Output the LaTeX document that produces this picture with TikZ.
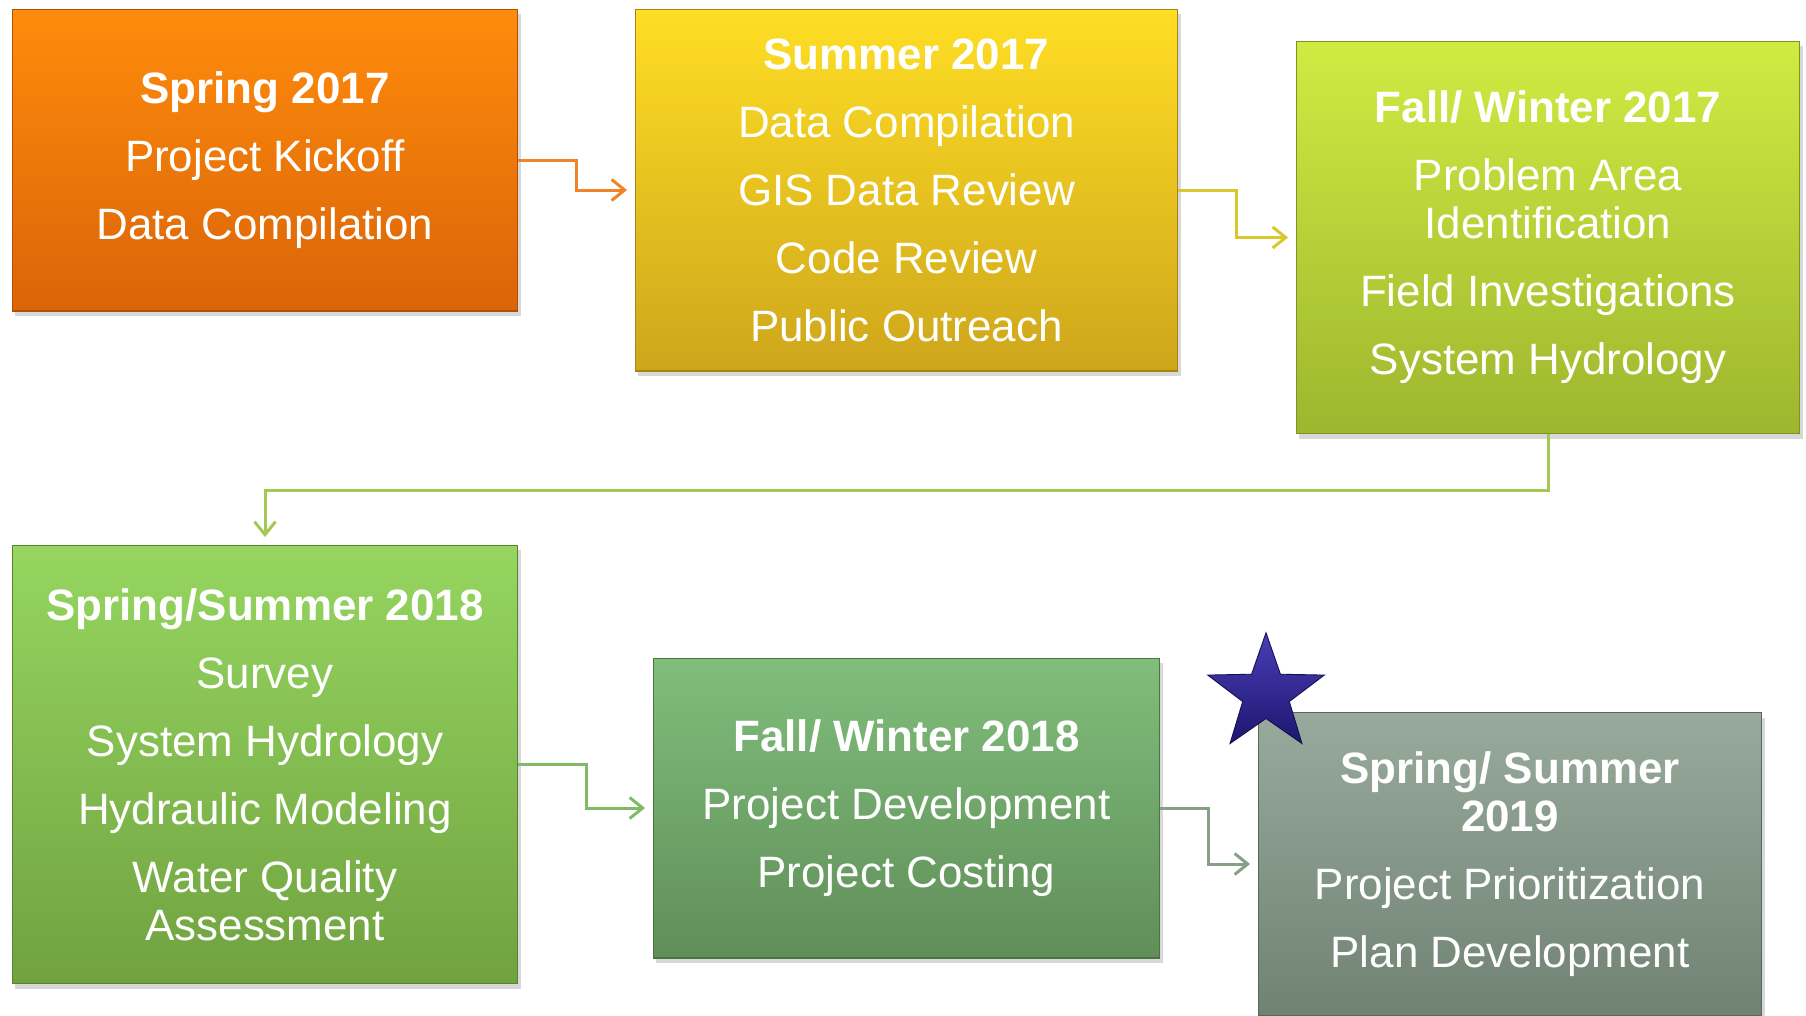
\documentclass[tikz,border=0pt]{standalone}
\usepackage{fontspec}
\setmainfont{Liberation Sans}
\usetikzlibrary{shapes.geometric,shadows,arrows.meta}

\definecolor{springtop}{RGB}{255,140,12}
\definecolor{springbot}{RGB}{218,100,8}
\definecolor{summertop}{RGB}{255,222,36}
\definecolor{summerbot}{RGB}{206,166,28}
\definecolor{falltop}{RGB}{208,235,66}
\definecolor{fallbot}{RGB}{158,182,46}
\definecolor{ssumtop}{RGB}{150,214,96}
\definecolor{ssumbot}{RGB}{112,162,64}
\definecolor{wintertop}{RGB}{128,190,124}
\definecolor{winterbot}{RGB}{96,142,88}
\definecolor{plantop}{RGB}{152,170,156}
\definecolor{planbot}{RGB}{112,130,114}
\definecolor{startop}{RGB}{72,62,182}
\definecolor{starbot}{RGB}{30,22,112}
\definecolor{springline}{RGB}{240,132,40}
\definecolor{summerline}{RGB}{216,200,44}
\definecolor{fallline}{RGB}{164,200,84}
\definecolor{ssumline}{RGB}{128,186,100}
\definecolor{winterline}{RGB}{134,160,134}

\begin{document}
\begin{tikzpicture}[x=0.02cm, y=-0.02cm,
        box/.style 2 args={rectangle, top color=#1, bottom color=#2, draw=#2!80!black, line width=0.6pt,
            text=white, align=center, font=\fontsize{25}{27.3}\selectfont,
            drop shadow={opacity=0.3, shadow xshift=0.06cm, shadow yshift=-0.1cm}},
        arrow/.style={->, >={Straight Barb[length=0.26cm, width=0.42cm]}, line width=0.06cm, shorten >=0.15cm, draw=#1}
    ]
        \useasboundingbox[fill=white] (0,0) rectangle (1806,1015);

        \node[box={springtop}{springbot}, minimum width=10.12cm, minimum height=6.04cm] (spring17) at (265,160)
            {\textbf{Spring 2017}\\[11.4pt]Project Kickoff\\[11.4pt]Data Compilation};
        \node[box={summertop}{summerbot}, minimum width=10.86cm, minimum height=7.24cm] (summer17) at (906.5,190)
            {\textbf{Summer 2017}\\[11.4pt]Data Compilation\\[11.4pt]GIS Data Review\\[11.4pt]Code Review\\[11.4pt]Public Outreach};
        \node[box={falltop}{fallbot}, minimum width=10.08cm, minimum height=7.86cm] (fall17) at (1548,237.5)
            {\textbf{Fall/ Winter 2017}\\[11.4pt]Problem Area\\Identification\\[11.4pt]Field Investigations\\[11.4pt]System Hydrology};
        \node[box={ssumtop}{ssumbot}, minimum width=10.12cm, minimum height=8.78cm] (spring18) at (265,764.5)
            {\textbf{Spring/Summer 2018}\\[11.4pt]Survey\\[11.4pt]System Hydrology\\[11.4pt]Hydraulic Modeling\\[11.4pt]Water Quality\\Assessment};
        \node[box={wintertop}{winterbot}, minimum width=10.14cm, minimum height=6cm] (fall18) at (906.5,808)
            {\textbf{Fall/ Winter 2018}\\[11.4pt]Project Development\\[11.4pt]Project Costing};
        \node[box={plantop}{planbot}, minimum width=10.08cm, minimum height=6.06cm] (spring19) at (1510,864)
            {\textbf{Spring/ Summer}\\\textbf{2019}\\[11.4pt]Project Prioritization\\[11.4pt]Plan Development};

        \node[star, star points=5, star point ratio=2.5, minimum size=2.45cm, inner sep=0pt,
            top color=startop, bottom color=starbot, draw=starbot!70!black, line width=0.5pt] (goal) at (1266,694) {};

        \draw[arrow=springline] (spring17.east) -- ++(58,0) |- (summer17.west);
        \draw[arrow=summerline] (summer17.east) -- ++(58,0) |- (fall17.west);
        \draw[arrow=fallline] (fall17.south) -- ++(0,56) -| (spring18.north);
        \draw[arrow=ssumline] (spring18.east) -- ++(68,0) |- (fall18.west);
        \draw[arrow=winterline] (fall18.east) -- ++(48,0) |- (spring19.west);
    \end{tikzpicture}
\end{document}
